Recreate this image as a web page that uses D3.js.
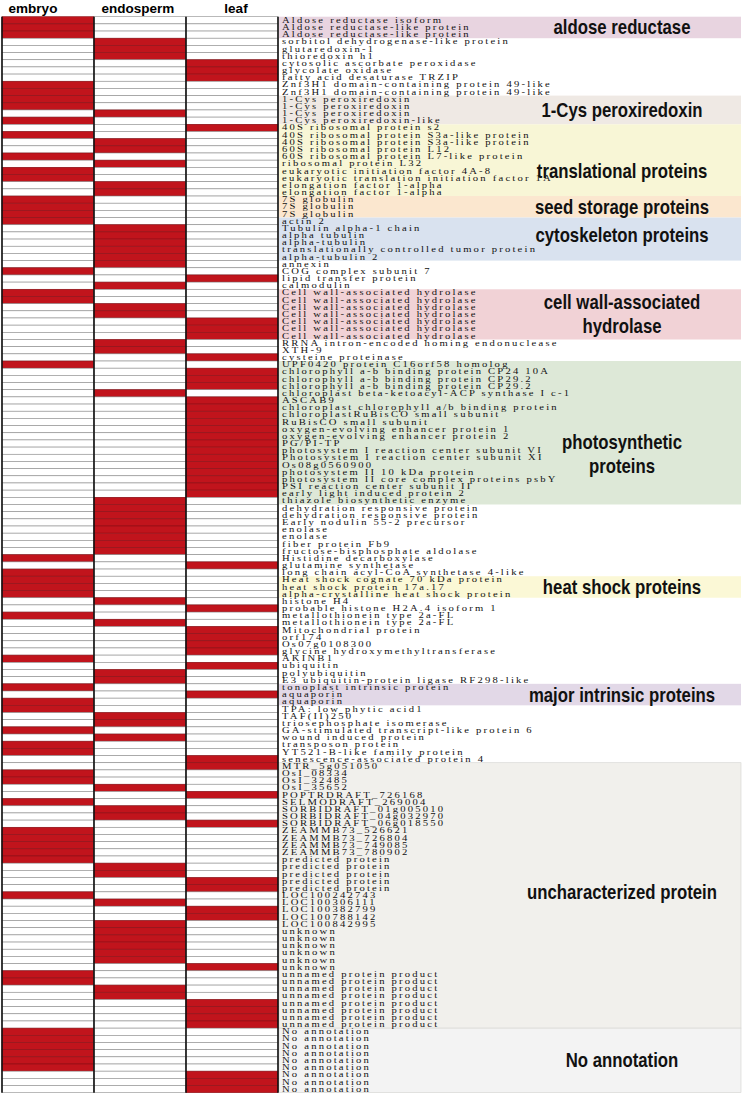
<!DOCTYPE html>
<meta charset="utf-8">
<head>
	<title>Tissue-specific proteins</title>
	<script type="text/javascript" src="https://d3js.org/d3.v7.min.js"></script>
	<style>
		body { margin: 0; background: #fff; }
		.head { font-family: "Liberation Sans", Arial, sans-serif; font-weight: bold; font-size: 13.5px; }
		.rowlab { font-family: "Liberation Serif", "Times New Roman", serif; font-size: 8px; letter-spacing: 1.65px; fill: #111; }
		.grplab { font-family: "Liberation Sans", Arial, sans-serif; font-weight: bold; font-size: 19.5px; fill: #111; }
	</style>
</head>
<body>
<div id="chart"></div>
<script>
	// tissues (columns)
	var tissues = ["embryo", "endosperm", "leaf"];

	// protein names, top to bottom
	var proteins = [
		"Aldose reductase isoform", "Aldose reductase-like protein", "Aldose reductase-like protein",
		"sorbitol dehydrogenase-like protein", "glutaredoxin-1", "thioredoxin h1",
		"cytosolic ascorbate peroxidase", "glycolate oxidase", "fatty acid desaturase TRZIP",
		"Znf3H1 domain-containing protein 49-like", "Znf3H1 domain-containing protein 49-like",
		"1-Cys peroxiredoxin", "1-Cys peroxiredoxin", "1-Cys peroxiredoxin", "1-Cys peroxiredoxin-like",
		"40S ribosomal protein s2", "40S ribosomal protein S3a-like protein", "40S ribosomal protein S3a-like protein",
		"60S ribosomal protein L12", "60S ribosomal protein L7-like protein", "ribosomal protein L32",
		"eukaryotic initiation factor 4A-8", "eukaryotic translation initiation factor 1A",
		"elongation factor 1-alpha", "elongation factor 1-alpha",
		"7S globulin", "7S globulin", "7S globulin",
		"actin 2", "Tubulin alpha-1 chain", "alpha tubulin", "alpha-tubulin",
		"translationally controlled tumor protein", "alpha-tubulin 2",
		"annexin", "COG complex subunit 7", "lipid transfer protein", "calmodulin",
		"Cell wall-associated hydrolase", "Cell wall-associated hydrolase", "Cell wall-associated hydrolase",
		"Cell wall-associated hydrolase", "Cell wall-associated hydrolase", "Cell wall-associated hydrolase",
		"Cell wall-associated hydrolase",
		"RRNA intron-encoded homing endonuclease", "XTH-9", "cysteine proteinase",
		"UPF0420 protein C16orf58 homolog", "chlorophyll a-b binding protein CP24 10A",
		"chlorophyll a-b binding protein CP29.2", "chlorophyll a-b binding protein CP29.2",
		"chloroplast beta-ketoacyl-ACP synthase I c-1", "ASCAB9",
		"chloroplast chlorophyll a/b binding protein", "chloroplastRuBisCO small subunit",
		"RuBisCO small subunit", "oxygen-evolving enhancer protein 1", "oxygen-evolving enhancer protein 2",
		"PG/PI-TP", "photosystem I reaction center subunit VI", "Photosystem I reaction center subunit XI",
		"Os08g0560900", "photosystem II 10 kDa protein", "photosystem II core complex proteins psbY",
		"PSI reaction center subunit II", "early light induced protein 2", "thiazole biosynthetic enzyme",
		"dehydration responsive protein", "dehydration responsive protein", "Early nodulin 55-2 precursor",
		"enolase", "enolase", "fiber protein Fb9", "fructose-bisphosphate aldolase",
		"Histidine decarboxylase", "glutamine synthetase", "long chain acyl-CoA synthetase 4-like",
		"Heat shock cognate 70 kDa protein", "heat shock protein 17a.17", "alpha-crystalline heat shock protein",
		"histone H4", "probable histone H2A.4 isoform 1", "metallothionein type 2a-FL", "metallothionein type 2a-FL",
		"Mitochondrial protein", "orf174", "Os07g0108300", "glycine hydroxymethyltransferase", "AKINB1",
		"ubiquitin", "polyubiquitin", "E3 ubiquitin-protein ligase RF298-like",
		"tonoplast intrinsic protein", "aquaporin", "aquaporin",
		"TPA: low phytic acid1", "TAF(II)250", "triosephosphate isomerase",
		"GA-stimulated transcript-like protein 6", "wound induced protein", "transposon protein",
		"YT521-B-like family protein", "senescence-associated protein 4",
		"MTR_5g051050", "OsI_08334", "OsI_32485", "OsI_35652", "POPTRDRAFT_726168", "SELMODRAFT_269004",
		"SORBIDRAFT_01g005010", "SORBIDRAFT_04g032970", "SORBIDRAFT_06g018550",
		"ZEAMMB73_526621", "ZEAMMB73_726804", "ZEAMMB73_749085", "ZEAMMB73_780902",
		"predicted protein", "predicted protein", "predicted protein", "predicted protein", "predicted protein",
		"LOC100242743", "LOC100306111", "LOC100382799", "LOC100788142", "LOC100842995",
		"unknown", "unknown", "unknown", "unknown", "unknown", "unknown",
		"unnamed protein product", "unnamed protein product", "unnamed protein product", "unnamed protein product",
		"unnamed protein product", "unnamed protein product", "unnamed protein product", "unnamed protein product",
		"No annotation", "No annotation", "No annotation", "No annotation", "No annotation",
		"No annotation", "No annotation", "No annotation", "No annotation"
	];

	// tissue where each protein is found (0 embryo, 1 endosperm, 2 leaf)
	var found = [
		0,0,0, 1,1,1, 2,2,2, 0,0,
		0,0,1,0,
		2,0,1,1,0,1,0,0,1,1,
		0,0,0,
		0,1,1,1,1,1,
		1,0,2,1,
		0,0,1,1,2,2,2,
		1,1,2,
		0,2,2,2,1,2,2,2,2,2,2,2,2,2,2,2,2,2,2,1,
		1,1,1,1,1,1,1,0,2,0,
		0,0,0,
		1,2,0,1,2,2,2,2,0,2,1,1,
		0,2,0,
		0,1,1,0,1,0,0,2,
		2,0,0,1,2,0,1,1,2,0,0,0,0,0,1,1,2,2,0,1,2,2,1,1,1,1,1,1,2,0,0,1,1,2,2,2,2,
		0,0,0,0,0,0,2,2,2
	];

	// functional groups: first row, last row, row the label sits on
	var groupNames = [["aldose reductase"], ["1-Cys peroxiredoxin"], ["translational proteins"],
		["seed storage proteins"], ["cytoskeleton proteins"], ["cell wall-associated", "hydrolase"],
		["photosynthetic", "proteins"], ["heat shock proteins"], ["major intrinsic proteins"],
		["uncharacterized protein"], ["No annotation"]];
	var groupStart = [0, 11, 15, 25, 28, 38, 48, 78, 93, 104, 141];
	var groupEnd   = [2, 14, 24, 27, 33, 44, 67, 80, 95, 140, 149];
	var groupLabelRow = [1.5, 13, 21.5, 26.5, 30.5, 41.5, 61, 79.5, 94.5, 122, 145.5];
	var groupColors = ["#e8d4e0", "#efe9e4", "#f8f6d6", "#fbe7cf", "#d9e2ef", "#f1d2d6",
		"#dde8d7", "#fbf8d6", "#e2d8e7", "#f1f0ec", "#f3f3f3"];

	var w = 745, h = 1095;
	var svg = d3.select("#chart").append("svg").attr("width", w).attr("height", h);

	var x = d3.scaleBand().domain(tissues).range([2, 278]);
	var y = d3.scaleBand().domain(d3.range(proteins.length)).range([16.7, 1092.7]);
	var rowY = d3.scaleLinear().domain([0, proteins.length]).range([16.7, 1092.7]);
	var labX = 282;
	var headShift = [-15, -2, 4];   // headers are not quite centred in the original
	var grpX = 622;

	// group background bands
	svg.append("g").selectAll("rect")
		.data(groupNames).enter().append("rect")
		.attr("x", 279)
		.attr("y", function (d, i) { return y(groupStart[i]); })
		.attr("width", 741 - 279)
		.attr("height", function (d, i) { return y(groupEnd[i]) + y.bandwidth() - y(groupStart[i]); })
		.style("fill", function (d, i) { return groupColors[i]; })
		.style("stroke", function (d, i) { return i >= 9 ? "#d4d4d0" : "none"; })
		.style("stroke-width", 0.6);

	// cells
	var cells = [];
	proteins.forEach(function (p, r) {
		tissues.forEach(function (t, c) { cells.push({ r: r, t: t, on: found[r] === c }); });
	});
	svg.append("g").selectAll("rect")
		.data(cells).enter().append("rect")
		.attr("x", function (d) { return x(d.t); })
		.attr("y", function (d) { return y(d.r); })
		.attr("width", x.bandwidth())
		.attr("height", y.bandwidth())
		.style("fill", function (d) { return d.on ? "#c1141c" : "#fff"; })
		.style("stroke", function (d) { return d.on ? "#8a1016" : "#8c8c8c"; })
		.style("stroke-width", 0.6);

	// column separators
	svg.append("g").selectAll("line")
		.data(tissues.concat(["end"])).enter().append("line")
		.attr("x1", function (d) { return d === "end" ? x.range()[1] : x(d); })
		.attr("x2", function (d) { return d === "end" ? x.range()[1] : x(d); })
		.attr("y1", y.range()[0])
		.attr("y2", y.range()[1])
		.style("stroke", "#111")
		.style("stroke-width", 1.6);

	// column headers
	svg.append("g").selectAll("text")
		.data(tissues).enter().append("text")
		.attr("class", "head")
		.attr("x", function (d, i) { return x(d) + x.bandwidth() / 2 + headShift[i]; })
		.attr("y", 13)
		.attr("text-anchor", "middle")
		.text(function (d) { return d; });

	// row labels (wide, spaced serif like the original)
	svg.append("g").selectAll("text")
		.data(proteins).enter().append("text")
		.attr("class", "rowlab")
		.attr("transform", function (d, i) { return "translate(" + labX + "," + (y(i) + y.bandwidth() - 1) + ") scale(1.33,1)"; })
		.text(function (d) { return d; });

	// group labels (condensed bold)
	var gl = svg.append("g").selectAll("text")
		.data(groupNames).enter().append("text")
		.attr("class", "grplab")
		.attr("text-anchor", "middle")
		.attr("transform", function (d, i) {
			var yy = rowY(groupLabelRow[i]) - (d.length - 1) * 12 + 7;
			return "translate(" + grpX + "," + yy + ") scale(0.86,1)";
		});
	gl.selectAll("tspan")
		.data(function (d) { return d; }).enter().append("tspan")
		.attr("x", 0)
		.attr("dy", function (d, i) { return i === 0 ? 0 : 24; })
		.text(function (d) { return d; });
</script>
</body>
</html>
